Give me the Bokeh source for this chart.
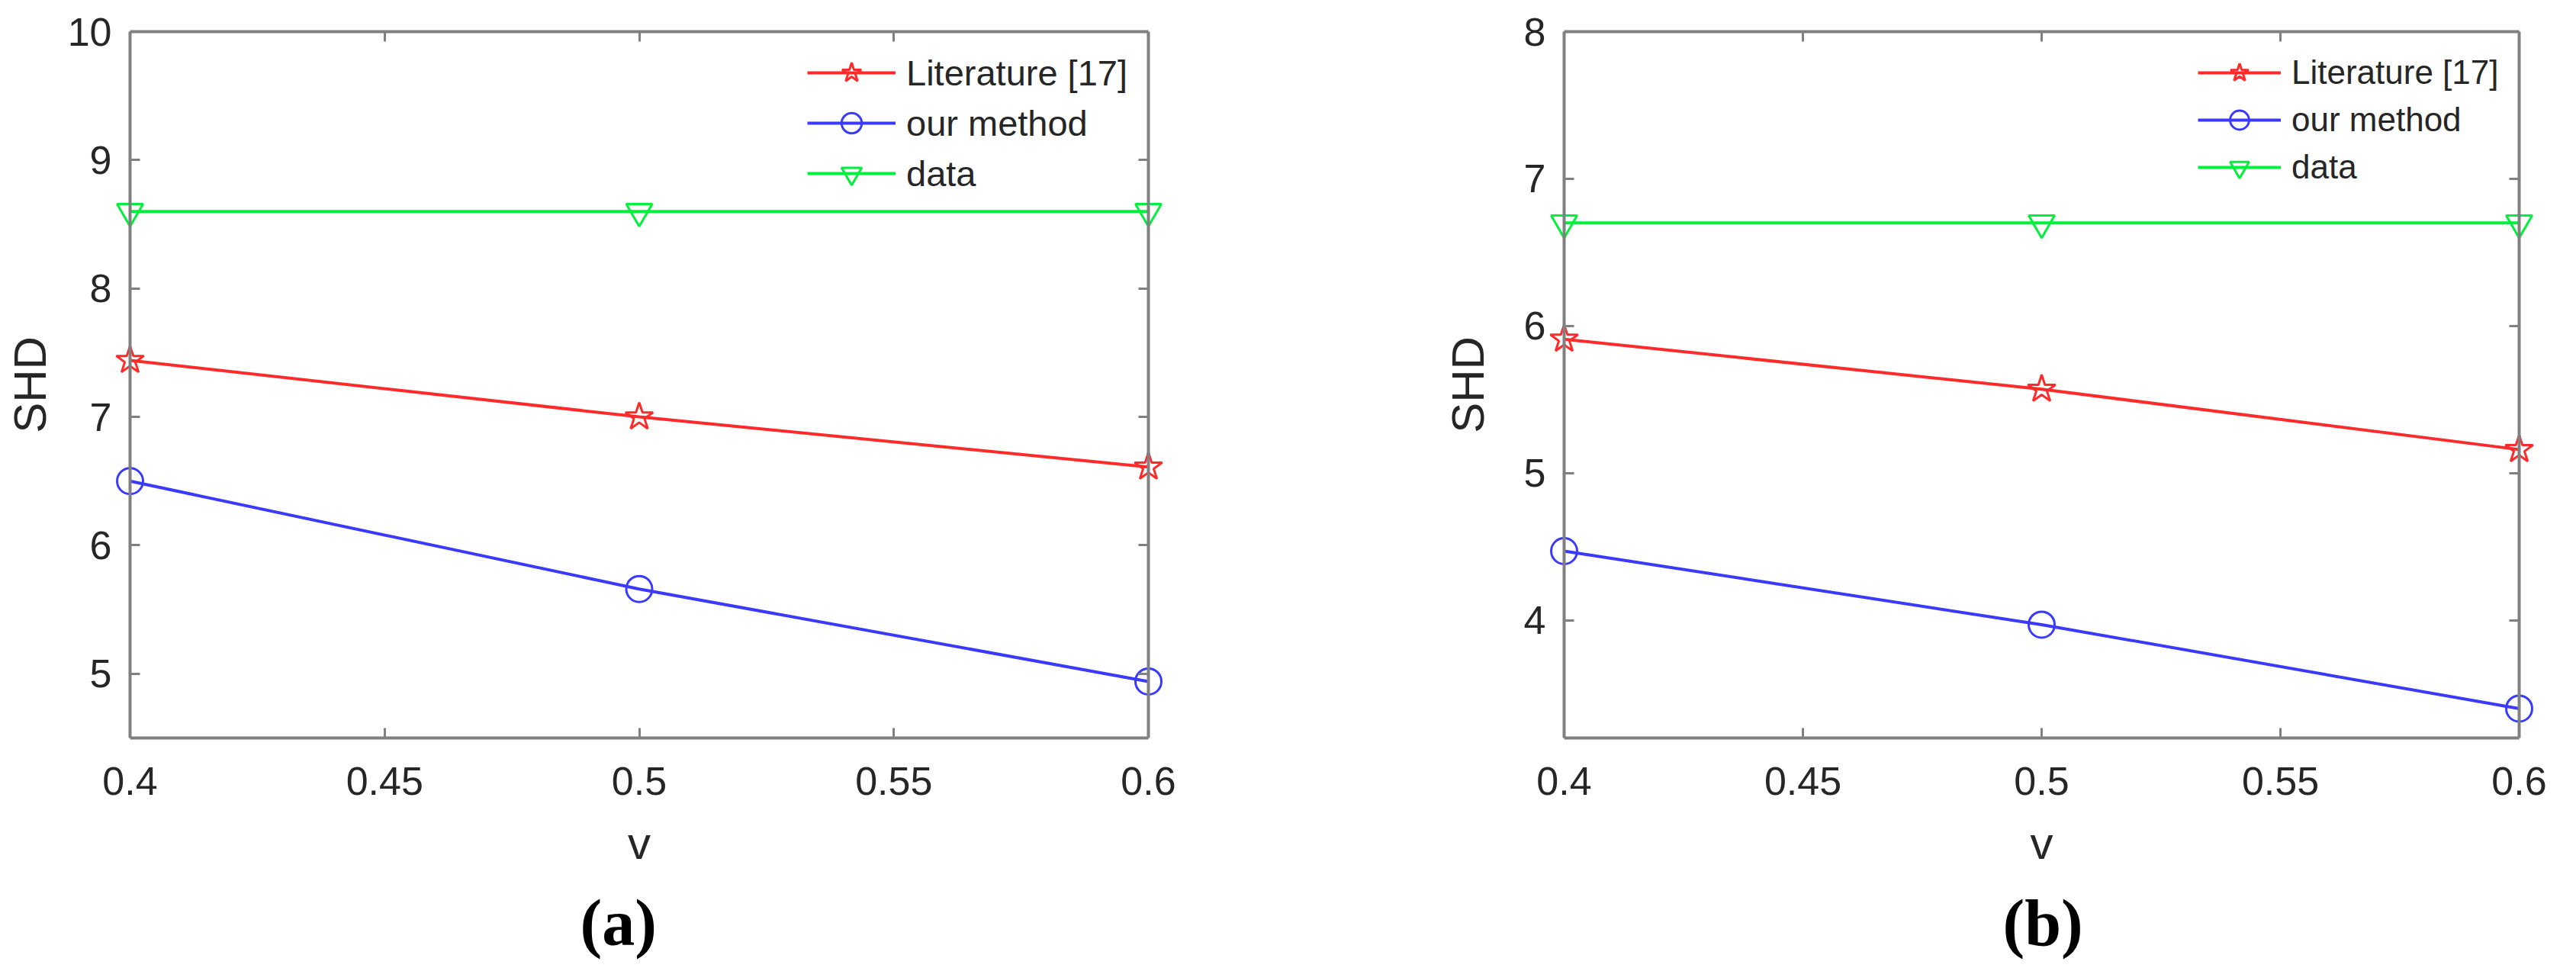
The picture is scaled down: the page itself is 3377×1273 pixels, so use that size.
from bokeh.plotting import figure
from bokeh.models import Range1d, FixedTicker, LinearAxis, Legend, LegendItem, Title
from bokeh.layouts import row
from bokeh.embed import file_html
from bokeh.resources import INLINE

# ---------------- data ----------------
v = [0.4, 0.5, 0.6]
a_literature = [7.44, 7.00, 6.61]
a_ours = [6.50, 5.66, 4.94]
a_data = [8.60, 8.60, 8.60]
b_literature = [5.91, 5.57, 5.16]
b_ours = [4.47, 3.97, 3.40]
b_data = [6.70, 6.70, 6.70]
x_ticks = [0.4, 0.45, 0.5, 0.55, 0.6]
x_tick_labels = ["0.4", "0.45", "0.5", "0.55", "0.6"]
a_y_ticks = [5, 6, 7, 8, 9, 10]
b_y_ticks = [4, 5, 6, 7, 8]
series_names = ["Literature [17]", "our method", "data"]
panel_tags = ["(a)", "(b)"]
x_title = "v"
y_title = "SHD"
X0, X1 = 0.4, 0.6

# ---------------- style / layout ----------------
RED = "#ff2a2a"
BLUE = "#3a3aff"
GREEN = "#00f03c"
GRAY = "#808080"
TXT = "#262626"
SANS = "Liberation Sans"
SERIF = "Liberation Serif"
FRAME_H = 926
TOP = 41
BOTTOM = 282
PAD = 22  # px of room left/right of the box so edge markers are not cut


def frame_axis(ax):
    """Axis that only draws the box edge and inward ticks (no labels)."""
    ax.major_label_text_font_size = "2px"
    ax.major_label_text_color = None
    ax.major_label_text_alpha = 0
    ax.major_label_standoff = 0
    ax.major_tick_in = 13
    ax.major_tick_out = 0
    ax.minor_tick_line_color = None
    ax.axis_line_color = GRAY
    ax.axis_line_width = 4
    ax.major_tick_line_color = GRAY
    ax.major_tick_line_width = 3
    return ax


def panel(lit, ours, dat, yr, yticks, tag, box_w, left, right, shift,
          ylab_standoff, legend_font, glyph_w, legend_x, row_h, tag_left):
    pad_data = PAD / box_w * (X1 - X0)
    p = figure(frame_width=box_w + 2 * PAD, frame_height=FRAME_H,
               min_border_left=left, min_border_right=right,
               min_border_top=TOP, min_border_bottom=BOTTOM,
               x_range=Range1d(X0 - pad_data, X1 + pad_data), y_range=Range1d(*yr),
               output_backend="svg", toolbar_location=None,
               background_fill_color="white", border_fill_color="white")
    if shift:
        p.margin = (0, 0, 0, shift)
    p.grid.visible = False
    p.outline_line_color = None

    xa, ya = p.xaxis[0], p.yaxis[0]
    xa.ticker = FixedTicker(ticks=x_ticks)
    xa.major_label_overrides = {t: s for t, s in zip(x_ticks, x_tick_labels)}
    xa.bounds = (X0, X1)
    ya.ticker = FixedTicker(ticks=yticks)
    xa.axis_label = x_title
    ya.axis_label = y_title
    for ax in (xa, ya):
        ax.major_label_text_font = SANS
        ax.major_label_text_font_size = "52px"
        ax.major_label_text_color = TXT
        ax.axis_label_text_font = SANS
        ax.axis_label_text_font_size = "60px"
        ax.axis_label_text_font_style = "normal"
        ax.axis_label_text_color = TXT
        ax.major_tick_in = 13
        ax.major_tick_out = 0
        ax.minor_tick_line_color = None
        ax.axis_line_color = GRAY
        ax.axis_line_width = 4
        ax.major_tick_line_color = GRAY
        ax.major_tick_line_width = 3
    xa.major_label_standoff = 38
    xa.axis_label_standoff = 27
    # left axis at the frame edge only carries the labels; the box edge and
    # its ticks are drawn by a second axis fixed at x = X0
    ya.axis_line_color = None
    ya.major_tick_line_color = None
    ya.major_tick_in = 0
    ya.major_label_standoff = 24 - PAD
    ya.axis_label_standoff = ylab_standoff

    p.add_layout(frame_axis(LinearAxis(ticker=FixedTicker(ticks=yticks),
                                       fixed_location=X0)), "left")
    p.add_layout(frame_axis(LinearAxis(ticker=FixedTicker(ticks=x_ticks),
                                       bounds=(X0, X1))), "above")
    p.add_layout(frame_axis(LinearAxis(ticker=FixedTicker(ticks=yticks),
                                       fixed_location=X1)), "right")

    items = []
    for name, ys, color, marker, size in (
            (series_names[0], lit, RED, "star", 38),
            (series_names[1], ours, BLUE, "circle", 34),
            (series_names[2], dat, GREEN, "inverted_triangle", 34)):
        lr = p.line(v, ys, line_color=color, line_width=4)
        sr = p.scatter(v, ys, marker=marker, size=size, fill_color=None,
                       line_color=color, line_width=3)
        items.append(LegendItem(label=name, renderers=[lr, sr]))

    leg_pad = 5
    leg_h = 2 * leg_pad + 3 * row_h
    leg_top = 54 - leg_pad - row_h // 2
    legend = Legend(items=items,
                    location=(PAD + legend_x - leg_pad, FRAME_H - leg_top - leg_h),
                    border_line_alpha=0, background_fill_alpha=0,
                    label_text_font=SANS, label_text_font_size=legend_font,
                    label_text_color=TXT,
                    glyph_width=glyph_w, glyph_height=row_h, label_height=row_h,
                    spacing=0, padding=leg_pad, margin=0, label_standoff=14)
    p.add_layout(legend)

    p.add_layout(Title(text=tag, align="left", offset=PAD + tag_left,
                       text_font=SERIF, text_font_size="86px",
                       text_font_style="bold", text_color="black",
                       standoff=36), "below")
    return p


pa = panel(a_literature, a_ours, a_data, (4.5, 10), a_y_ticks, panel_tags[0],
           1335, 170, 151, -22, 13, "47px", 116, 888, 66, 590)
pb = panel(b_literature, b_ours, b_data, (3.2, 8), b_y_ticks, panel_tags[1],
           1252, 350, 30, 0, 37, "44px", 109, 831, 62, 575)

layout = row(pa, pb)
open("out.html", "w").write(file_html(layout, INLINE))
